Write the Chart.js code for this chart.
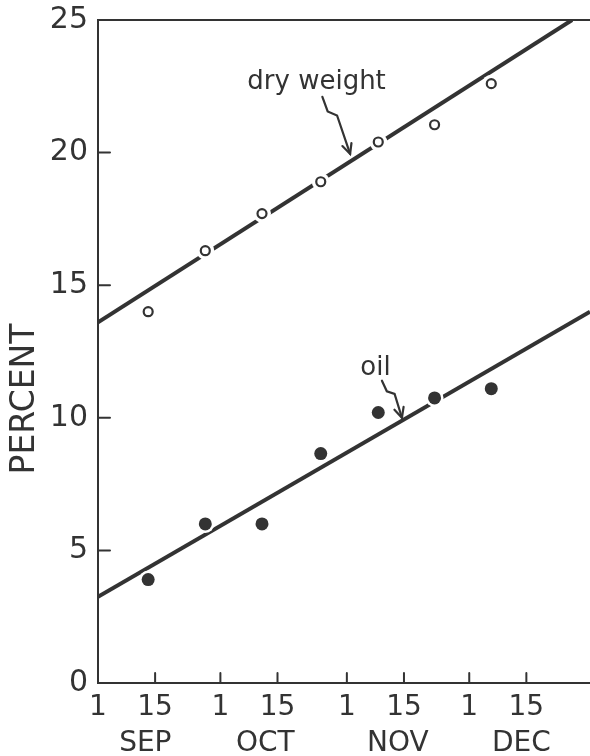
<!DOCTYPE html>
<html>
<head>
<meta charset="utf-8">
<script src="https://cdn.jsdelivr.net/npm/chart.js@4"></script>
<style>
  body { margin: 0; background: #fff; }
  #wrap { width: 590px; height: 756px; }
</style>
</head>
<body>
<div id="wrap"><canvas id="growthChart"></canvas></div>
<script>
// days counted from Sep 1
const tickDays = [0, 14, 30, 44, 61, 75, 91, 105];
const tickLabels = ["1", "15", "1", "15", "1", "15", "1", "15"];
const months = ["SEP", "OCT", "NOV", "DEC"];
const monthDays = [11.6, 41, 73.5, 103.8];

const sampleDays = [12.3, 26.3, 40.2, 54.6, 68.7, 82.5, 96.4];
const dryWeight = [14.0, 16.3, 17.7, 18.9, 20.4, 21.05, 22.6];
const oil = [3.9, 6.0, 6.0, 8.65, 10.2, 10.75, 11.1];

const dryFitDays = [0, 116.2];
const dryFit = [13.6, 25.0];
const oilFitDays = [0, 120.6];
const oilFit = [3.25, 14.0];

const ink = "#333";
const font = "DejaVu Sans";

const pts = (xs, ys) => xs.map((d, i) => ({ x: d, y: ys[i] }));
const noPadX = (s, h) => { s.height = h; s.paddingLeft = 0; s.paddingRight = 0; };

// inward ticks, top frame line, axis title and the two labels with squiggly arrows
const decor = {
  id: "decor",
  afterDraw(chart) {
    const { ctx, chartArea } = chart;
    const x = chart.scales.x;
    const y = chart.scales.y;
    const px = (d) => x.getPixelForValue(d);
    const py = (v) => y.getPixelForValue(v);
    ctx.save();
    ctx.strokeStyle = ink;
    ctx.fillStyle = ink;
    ctx.lineCap = "round";
    ctx.lineWidth = 2;

    ctx.beginPath();
    ctx.moveTo(chartArea.left, chartArea.top);
    ctx.lineTo(chartArea.right, chartArea.top);
    y.ticks.forEach((t) => {
      if (t.value > 0 && t.value < 25) {
        ctx.moveTo(chartArea.left, py(t.value));
        ctx.lineTo(chartArea.left + 12, py(t.value));
      }
    });
    x.ticks.forEach((t) => {
      if (t.value > 0) {
        ctx.moveTo(px(t.value), chartArea.bottom);
        ctx.lineTo(px(t.value), chartArea.bottom - 10);
      }
    });
    ctx.stroke();

    // y title
    ctx.save();
    ctx.translate(25, 399);
    ctx.rotate(-Math.PI / 2);
    ctx.font = "33px '" + font + "'";
    ctx.textAlign = "center";
    ctx.textBaseline = "middle";
    ctx.fillText("PERCENT", 0, 0);
    ctx.restore();

    // labels
    ctx.font = "26px '" + font + "'";
    ctx.textAlign = "left";
    ctx.textBaseline = "alphabetic";
    ctx.fillText("dry weight", px(36.6), py(22.4));
    ctx.fillText("oil", px(64.3), py(11.6));

    const arrow = (path) => {
      ctx.lineWidth = 2.2;
      ctx.beginPath();
      path.forEach(([d, v], i) => (i ? ctx.lineTo(px(d), py(v)) : ctx.moveTo(px(d), py(v))));
      ctx.stroke();
      const [d1, v1] = path[path.length - 2];
      const [d2, v2] = path[path.length - 1];
      const ang = Math.atan2(py(v2) - py(v1), px(d2) - px(d1));
      const tx = px(d2), ty = py(v2);
      ctx.beginPath();
      ctx.moveTo(tx - 11 * Math.cos(ang - 0.45), ty - 11 * Math.sin(ang - 0.45));
      ctx.lineTo(tx, ty);
      ctx.lineTo(tx - 11 * Math.cos(ang + 0.45), ty - 11 * Math.sin(ang + 0.45));
      ctx.stroke();
    };
    arrow([[55.0, 22.1], [56.3, 21.55], [58.6, 21.4], [61.8, 19.95]]);
    arrow([[69.6, 11.4], [70.8, 11.0], [72.7, 10.9], [74.5, 10.0]]);
    ctx.restore();
  },
};

const ctx = document.getElementById("growthChart").getContext("2d");
const growthChart = new Chart(ctx, {
  type: "scatter",
  data: {
    datasets: [
      {
        label: "dry weight fit",
        data: pts(dryFitDays, dryFit),
        showLine: true,
        borderColor: ink,
        borderWidth: 4,
        pointRadius: 0,
        order: 3,
      },
      {
        label: "oil fit",
        data: pts(oilFitDays, oilFit),
        showLine: true,
        borderColor: ink,
        borderWidth: 4,
        pointRadius: 0,
        order: 3,
      },
      {
        // white halo breaks the fitted line around each point
        label: "halo dry",
        data: pts(sampleDays, dryWeight),
        pointRadius: 9,
        pointBackgroundColor: "#fff",
        pointBorderWidth: 0,
        order: 2,
      },
      {
        label: "halo oil",
        data: pts(sampleDays, oil),
        pointRadius: 9,
        pointBackgroundColor: "#fff",
        pointBorderWidth: 0,
        order: 2,
      },
      {
        label: "dry weight",
        data: pts(sampleDays, dryWeight),
        pointRadius: 4.5,
        pointBackgroundColor: "#fff",
        pointBorderColor: ink,
        pointBorderWidth: 2.2,
        order: 1,
      },
      {
        label: "oil",
        data: pts(sampleDays, oil),
        pointRadius: 6.5,
        pointBackgroundColor: ink,
        pointBorderColor: ink,
        pointBorderWidth: 0,
        order: 1,
      },
    ],
  },
  options: {
    responsive: true,
    maintainAspectRatio: false,
    animation: false,
    layout: { autoPadding: false, padding: { top: 20, left: 0, right: 0, bottom: 0 } },
    plugins: {
      legend: { display: false },
      tooltip: { enabled: false },
    },
    scales: {
      x: {
        type: "linear",
        position: "bottom",
        min: 0,
        max: 120.6,
        grid: { display: false, drawTicks: false },
        border: { display: true, color: ink, width: 2 },
        afterBuildTicks: (s) => { s.ticks = tickDays.map((v) => ({ value: v })); },
        afterFit: (s) => noPadX(s, 44),
        ticks: {
          autoSkip: false,
          maxRotation: 0,
          padding: 8,
          color: ink,
          font: { family: font, size: 28 },
          callback: (v, i) => tickLabels[i],
        },
      },
      xMonth: {
        type: "linear",
        position: "bottom",
        weight: 1,
        min: 0,
        max: 120.6,
        grid: { display: false, drawTicks: false },
        border: { display: false },
        afterBuildTicks: (s) => { s.ticks = monthDays.map((v) => ({ value: v })); },
        afterFit: (s) => noPadX(s, 29),
        ticks: {
          autoSkip: false,
          maxRotation: 0,
          padding: 0,
          color: ink,
          font: { family: font, size: 28 },
          callback: (v, i) => months[i],
        },
      },
      y: {
        min: 0,
        max: 25,
        grid: { display: false, drawTicks: false },
        border: { display: true, color: ink, width: 2 },
        afterFit: (s) => { s.width = 98; s.paddingTop = 0; s.paddingBottom = 0; },
        ticks: {
          stepSize: 5,
          padding: 10,
          color: ink,
          font: { family: font, size: 30 },
        },
      },
    },
  },
  plugins: [decor],
});
</script>
</body>
</html>
